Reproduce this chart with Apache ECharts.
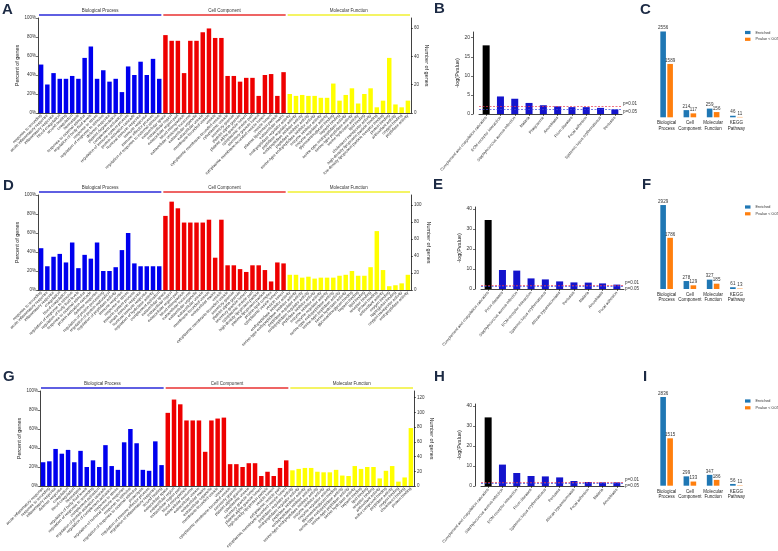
<!DOCTYPE html>
<html>
<head>
<meta charset="utf-8">
<script src="https://cdn.jsdelivr.net/npm/echarts@6/dist/echarts.min.js"></script>
<style>
  html, body { margin: 0; padding: 0; background: #fff; }
  #main { width: 778px; height: 551px; }
</style>
</head>
<body>
<div id="main"></div>
<script>
// ---- GO panels (A, D, G): percent of genes per term ----
const bpTermsA = ["response to wounding", "acute inflammatory response", "inflammatory response", "blood coagulation", "wound healing", "coagulation", "hemostasis", "response to external stimulus", "regulation of body fluid levels", "response to stress", "regulation of response to stimulus", "defense response", "platelet degranulation", "complement activation", "regulation of immune system process", "protein activation cascade", "humoral immune response", "immune response", "immune effector process", "regulation of response to external stimulus"];
const ccTermsA = ["extracellular space", "extracellular region", "extracellular region part", "blood microparticle", "extracellular vesicular exosome", "extracellular organelle", "extracellular vesicle", "membrane-bounded vesicle", "vesicle", "cytoplasmic membrane-bounded vesicle", "cytoplasmic vesicle", "secretory granule", "platelet alpha granule", "platelet alpha granule lumen", "cytoplasmic vesicle part", "secretory granule lumen", "cytoplasmic membrane-bounded vesicle lumen", "vesicle lumen", "plasma lipoprotein particle", "extracellular matrix"];
const mfTermsA = ["endopeptidase regulator activity", "peptidase regulator activity", "endopeptidase inhibitor activity", "peptidase inhibitor activity", "serine-type endopeptidase inhibitor activity", "enzyme inhibitor activity", "enzyme regulator activity", "glycosaminoglycan binding", "heparin binding", "serine-type endopeptidase activity", "serine-type peptidase activity", "serine hydrolase activity", "lipid binding", "cholesterol transporter activity", "high-density lipoprotein particle binding", "low-density lipoprotein particle receptor binding", "protein binding", "antioxidant activity", "oxygen binding", "peptidase activity"];
const bpPctA = [51, 30, 42, 36, 36, 39, 36, 58, 70, 36, 45, 33, 36, 22, 49, 40, 54, 40, 57, 36];
const ccPctA = [82, 76, 76, 42, 76, 76, 85, 89, 79, 79, 39, 39, 33, 37, 37, 18, 40, 41, 18, 43];
const mfPctA = [20, 18, 19, 18, 18, 16, 16, 31, 13, 19, 26, 10, 20, 26, 6, 13, 58, 9, 6, 13];
const genesMaxA = 67;

const bpTermsD = ["response to wounding", "acute inflammatory response", "inflammatory response", "coagulation", "blood coagulation", "regulation of response to stimulus", "regulation of body fluid levels", "response to external stimulus", "protein activation cascade", "defense response", "regulation of protein processing", "regulation of protein maturation", "regulation of peptidase activity", "immune response", "response to stress", "immune system process", "innate immune response", "humoral immune response", "regulation of hydrolase activity", "complement activation"];
const ccTermsD = ["extracellular space", "extracellular region", "extracellular region part", "blood microparticle", "extracellular exosome", "extracellular organelle", "extracellular vesicle", "membrane-bounded vesicle", "extracellular matrix", "vesicle", "cytoplasmic membrane-bounded vesicle", "secretory granule", "platelet alpha granule", "secretory granule lumen", "cytoplasmic vesicle part", "high-density lipoprotein particle", "plasma lipoprotein particle", "protein-lipid complex", "cytoplasmic vesicle lumen", "vesicle lumen"];
const mfTermsD = ["endopeptidase inhibitor activity", "serine-type endopeptidase inhibitor activity", "peptidase regulator activity", "endopeptidase regulator activity", "peptidase inhibitor activity", "enzyme inhibitor activity", "enzyme regulator activity", "serine-type endopeptidase activity", "serine-type peptidase activity", "serine hydrolase activity", "glycosaminoglycan binding", "heparin binding", "lipid binding", "receptor binding", "protein binding", "antioxidant activity", "oxygen binding", "haptoglobin binding", "oxygen transporter activity", "endopeptidase activity"];
const bpPctD = [44, 25, 35, 38, 29, 50, 23, 37, 33, 50, 20, 20, 24, 42, 60, 28, 25, 25, 25, 25];
const ccPctD = [78, 93, 86, 71, 71, 71, 71, 74, 34, 74, 26, 26, 22, 19, 26, 26, 21, 9, 29, 28];
const mfPctD = [16, 16, 13, 14, 12, 13, 13, 13, 15, 16, 20, 15, 15, 24, 62, 21, 4, 5, 7, 16];
const genesMaxD = 112;

const bpTermsG = ["acute inflammatory response", "response to wounding", "inflammatory response", "defense response", "coagulation", "blood coagulation", "hemostasis", "regulation of body fluid levels", "regulation of response to wounding", "complement activation", "regulation of protein activation cascade", "regulation of complement activation", "response to stress", "regulation of humoral immune response", "response to stimulus", "regulation of response to external stimulus", "proteolysis", "regulation of immune effector process", "regulation of inflammatory response", "wound healing"];
const ccTermsG = ["extracellular space", "extracellular region", "extracellular region part", "blood microparticle", "extracellular exosome", "extracellular vesicle", "extracellular matrix", "extracellular organelle", "membrane-bounded vesicle", "vesicle", "cytoplasmic membrane-bounded vesicle", "secretory granule", "platelet alpha granule", "cytoplasmic vesicle", "secretory granule lumen", "platelet alpha granule lumen", "high-density lipoprotein particle", "vesicle lumen", "cytoplasmic vesicle part", "cytoplasmic membrane-bounded vesicle lumen"];
const mfTermsG = ["peptidase regulator activity", "endopeptidase regulator activity", "peptidase inhibitor activity", "endopeptidase inhibitor activity", "serine-type endopeptidase inhibitor activity", "enzyme inhibitor activity", "enzyme regulator activity", "glycosaminoglycan binding", "serine-type endopeptidase activity", "serine-type peptidase activity", "serine hydrolase activity", "heparin binding", "lipid binding", "receptor binding", "antioxidant activity", "sulfur compound binding", "peptidase activity", "oxygen binding", "cholesterol binding", "protein binding"];
const bpPctG = [25, 26, 39, 34, 38, 25, 37, 20, 27, 20, 43, 21, 17, 46, 60, 45, 17, 16, 47, 22];
const ccPctG = [77, 91, 86, 69, 69, 69, 36, 69, 71, 72, 23, 23, 20, 24, 24, 10.5, 15, 10.5, 19, 27];
const mfPctG = [16.5, 18, 19, 19, 15, 14.4, 14.4, 17, 11, 10.5, 21, 18, 20, 20, 8, 16, 21, 4.6, 9, 61];
const genesMaxG = 129;

const goGroupNames = ["Biological Process", "Cell Component", "Molecular Function"];
const goTicksPct = 20;

// ---- KEGG panels (B, E, H): -log(Pvalue) ----
const keggTermsB = ["Complement and coagulation cascades", "ECM-receptor interaction", "Staphylococcus aureus infection", "Malaria", "Phagosome", "Amoebiasis", "Prion diseases", "Focal adhesion", "Systemic lupus erythematosus", "Pertussis"];
const keggLogPB = [18, 4.6, 4.0, 2.9, 2.3, 2.0, 1.8, 1.8, 1.6, 1.2];
const keggTermsE = ["Complement and coagulation cascades", "Prion diseases", "Staphylococcus aureus infection", "ECM-receptor interaction", "Systemic lupus erythematosus", "African trypanosomiasis", "Pertussis", "Malaria", "Amoebiasis", "Focal adhesion"];
const keggLogPE = [34.5, 9.5, 9.2, 5.3, 4.8, 3.8, 3.3, 3.2, 2.8, 2.2];
const keggTermsH = ["Complement and coagulation cascades", "Staphylococcus aureus infection", "ECM-receptor interaction", "Prion diseases", "Systemic lupus erythematosus", "Pertussis", "African trypanosomiasis", "Focal adhesion", "Malaria", "Amoebiasis"];
const keggLogPH = [34.3, 10.7, 6.5, 5.0, 4.8, 4.3, 2.5, 2.0, 1.8, 1.8];
const pThresholds = [2, 1.3]; // -log10(0.01), -log10(0.05)

// ---- Count panels (C, F, I) ----
const countClasses = ["Biological\nProcess", "Cell\nComponent", "Molecular\nFunction", "KEGG\nPathway"];
const enrichedC = [2556, 214, 259, 46];
const sigC = [1589, 117, 156, 11];
const enrichedF = [2929, 278, 327, 61];
const sigF = [1786, 129, 185, 13];
const enrichedI = [2836, 299, 347, 56];
const sigI = [1515, 133, 186, 11];

const FONT = "Liberation Sans";
const goColors = ["#0000ee", "#ee0000", "#ffff00"];
const headColors = ["#2a2ad8", "#e83030", "#f0f030"];

const goPanels = [
  { terms: [bpTermsA, ccTermsA, mfTermsA], pct: [bpPctA, ccPctA, mfPctA], genesMax: genesMaxA,
    grid: { left: 38, top: 18, width: 373, height: 95 } },
  { terms: [bpTermsD, ccTermsD, mfTermsD], pct: [bpPctD, ccPctD, mfPctD], genesMax: genesMaxD,
    grid: { left: 38, top: 195, width: 373, height: 95 } },
  { terms: [bpTermsG, ccTermsG, mfTermsG], pct: [bpPctG, ccPctG, mfPctG], genesMax: genesMaxG,
    grid: { left: 40, top: 391, width: 374, height: 95 } },
];
const keggPanels = [
  { terms: keggTermsB, vals: keggLogPB, max: 21.5, interval: 5, grid: { left: 479, top: 32, width: 143, height: 82 } },
  { terms: keggTermsE, vals: keggLogPE, max: 41, interval: 10, grid: { left: 481, top: 207, width: 143, height: 82 } },
  { terms: keggTermsH, vals: keggLogPH, max: 41, interval: 10, grid: { left: 481, top: 404, width: 143, height: 82 } },
];
const countPanels = [
  { enriched: enrichedC, sig: sigC, max: 2600, grid: { left: 655, top: 30, width: 93, height: 87.3 }, legendTop: 30.5 },
  { enriched: enrichedF, sig: sigF, max: 3000, grid: { left: 655, top: 203, width: 93, height: 86 }, legendTop: 205 },
  { enriched: enrichedI, sig: sigI, max: 2900, grid: { left: 655, top: 395, width: 93, height: 90.7 }, legendTop: 399 },
];

let grids = [], xAxes = [], yAxes = [], series = [], legends = [];
const axisLineStyle = { lineStyle: { color: "#111", width: 0.8 } };

// GO
goPanels.forEach((p) => {
  let gi = grids.length;
  grids.push(Object.assign({ outerBoundsMode: "none" }, p.grid));
  let cats = p.terms[0].concat(p.terms[1], p.terms[2]);
  xAxes.push({
    gridIndex: gi, type: "category", data: cats,
    axisTick: { show: false }, axisLine: axisLineStyle,
    axisLabel: { interval: 0, rotate: 45, fontSize: 4, margin: 2, color: "#333", fontFamily: FONT },
  });
  let yl = yAxes.length;
  yAxes.push({
    gridIndex: gi, type: "value", min: 0, max: 100, interval: goTicksPct,
    splitLine: { show: false }, axisLine: { show: true, lineStyle: { color: "#111", width: 0.8 } },
    axisTick: { show: true, length: 2, lineStyle: { color: "#111", width: 0.6 } },
    axisLabel: { formatter: "{value}%", fontSize: 4.5, margin: 2, color: "#333", fontFamily: FONT },
    name: "Percent of genes", nameLocation: "middle", nameGap: 14,
    nameTextStyle: { fontSize: 5.5, color: "#222", fontFamily: FONT },
  });
  yAxes.push({
    gridIndex: gi, type: "value", position: "right", min: 0, max: p.genesMax, interval: 20,
    splitLine: { show: false }, axisLine: { show: true, lineStyle: { color: "#111", width: 0.8 } },
    axisTick: { show: true, length: 2, lineStyle: { color: "#111", width: 0.6 } },
    axisLabel: { fontSize: 4.5, margin: 3, color: "#333", fontFamily: FONT, showMaxLabel: false },
    name: "Number of genes", nameLocation: "middle", nameGap: 13, nameRotate: -90,
    nameTextStyle: { fontSize: 5.5, color: "#222", fontFamily: FONT },
  });
  let data = [];
  p.pct.forEach((arr, k) => arr.forEach((v) => data.push({ value: v, itemStyle: { color: goColors[k] } })));
  series.push({ type: "bar", xAxisIndex: gi, yAxisIndex: yl, data: data, barCategoryGap: "28%", silent: true });
});

// KEGG
keggPanels.forEach((p) => {
  let gi = grids.length;
  grids.push(Object.assign({ outerBoundsMode: "none" }, p.grid));
  xAxes.push({
    gridIndex: gi, type: "category", data: p.terms,
    axisTick: { show: true, length: 2, alignWithLabel: true, lineStyle: { color: "#111", width: 0.6 } },
    axisLine: axisLineStyle,
    axisLabel: { interval: 0, rotate: 50, fontSize: 4, margin: 3, color: "#333", fontFamily: FONT },
  });
  let yi = yAxes.length;
  yAxes.push({
    gridIndex: gi, type: "value", min: 0, max: p.max, interval: p.interval, offset: 6,
    splitLine: { show: false }, axisLine: { show: true, lineStyle: { color: "#111", width: 0.8 } },
    axisTick: { show: true, length: 2, lineStyle: { color: "#111", width: 0.6 } },
    axisLabel: { fontSize: 5, margin: 3, color: "#333", fontFamily: FONT, showMaxLabel: false },
    name: "-log(Pvalue)", nameLocation: "middle", nameGap: 13,
    nameTextStyle: { fontSize: 5.5, color: "#222", fontFamily: FONT },
  });
  series.push({
    type: "bar", xAxisIndex: gi, yAxisIndex: yi, barWidth: 7, silent: true,
    data: p.vals.map((v, k) => ({ value: v, itemStyle: { color: k === 0 ? "#000" : "#1414cc" } })),
    markLine: {
      silent: true, symbol: "none",
      data: [
        { yAxis: pThresholds[0], lineStyle: { color: "#e8364a", type: [2, 1.5], width: 0.7 },
          label: { formatter: "p=0.01", position: "end", distance: 1, verticalAlign: "bottom", fontSize: 4.5, color: "#333", fontFamily: FONT } },
        { yAxis: pThresholds[1], lineStyle: { color: "#3346e0", type: [2, 1.5], width: 0.7 },
          label: { formatter: "p=0.05", position: "end", distance: 1, verticalAlign: "top", fontSize: 4.5, color: "#333", fontFamily: FONT } },
      ],
    },
  });
});

// Counts
countPanels.forEach((p) => {
  let gi = grids.length;
  grids.push(Object.assign({ outerBoundsMode: "none" }, p.grid));
  xAxes.push({
    gridIndex: gi, type: "category", data: countClasses,
    axisTick: { show: false }, axisLine: { show: false },
    axisLabel: { interval: 0, fontSize: 4.5, lineHeight: 5.5, margin: 3, color: "#222", fontFamily: FONT },
  });
  let yi = yAxes.length;
  yAxes.push({ gridIndex: gi, type: "value", min: 0, max: p.max, show: false });
  const lbl = { show: true, position: "top", distance: 1, fontSize: 4.5, color: "#333", fontFamily: FONT };
  series.push({ name: "Enriched", type: "bar", xAxisIndex: gi, yAxisIndex: yi, data: p.enriched,
    barWidth: 5.6, barGap: "25%", itemStyle: { color: "#1f77b4" }, label: lbl, silent: true });
  series.push({ name: "Pvalue < 0.05", type: "bar", xAxisIndex: gi, yAxisIndex: yi, data: p.sig,
    barWidth: 5.6, barGap: "25%", itemStyle: { color: "#ff7f0e" }, label: lbl, silent: true });
  legends.push({
    left: 745, top: p.legendTop, padding: 0, orient: "vertical", icon: "rect",
    itemWidth: 5.5, itemHeight: 3.2, itemGap: 2.8, selectedMode: false,
    textStyle: { fontSize: 3.8, color: "#333", fontFamily: FONT },
    data: ["Enriched", "Pvalue < 0.05"],
  });
});

let chart = echarts.init(document.getElementById("main"), null, { renderer: "canvas" });
chart.setOption({
  animation: false,
  backgroundColor: "#fff",
  grid: grids,
  xAxis: xAxes,
  yAxis: yAxes,
  series: series,
  legend: legends,
});

// panel letters + GO group header bars (placed from the category axis)
const letters = [
  ["A", 2, 2], ["B", 434, 1], ["C", 640, 2],
  ["D", 3, 178], ["E", 433, 177], ["F", 642, 177],
  ["G", 3, 369], ["H", 434, 369], ["I", 643, 369],
];
let graphics = letters.map((l) => ({
  type: "text", x: l[1], y: l[2], silent: true,
  style: { text: l[0], font: "bold 15px " + FONT, fill: "#1c2a44", textVerticalAlign: "top" },
}));

goPanels.forEach((p, i) => {
  let band = p.grid.width / 60;
  let cats = p.terms[0].concat(p.terms[1], p.terms[2]);
  let yLine = p.grid.top - 3;
  p.terms.forEach((t, k) => {
    let first = cats[k * 20], last = cats[k * 20 + 19];
    let x0 = chart.convertToPixel({ xAxisIndex: i }, first) - band / 2 + 1;
    let x1 = chart.convertToPixel({ xAxisIndex: i }, last) + band / 2 - 1;
    graphics.push({
      type: "line", silent: true,
      shape: { x1: x0, y1: yLine, x2: x1, y2: yLine },
      style: { stroke: headColors[k], lineWidth: 1.6 },
    });
    graphics.push({
      type: "text", silent: true, x: (x0 + x1) / 2, y: yLine - 2,
      style: { text: goGroupNames[k], font: "4.5px " + FONT, fill: "#333", textAlign: "center", textVerticalAlign: "bottom" },
    });
  });
});

chart.setOption({ graphic: graphics });
window.addEventListener("resize", chart.resize);
</script>
</body>
</html>
